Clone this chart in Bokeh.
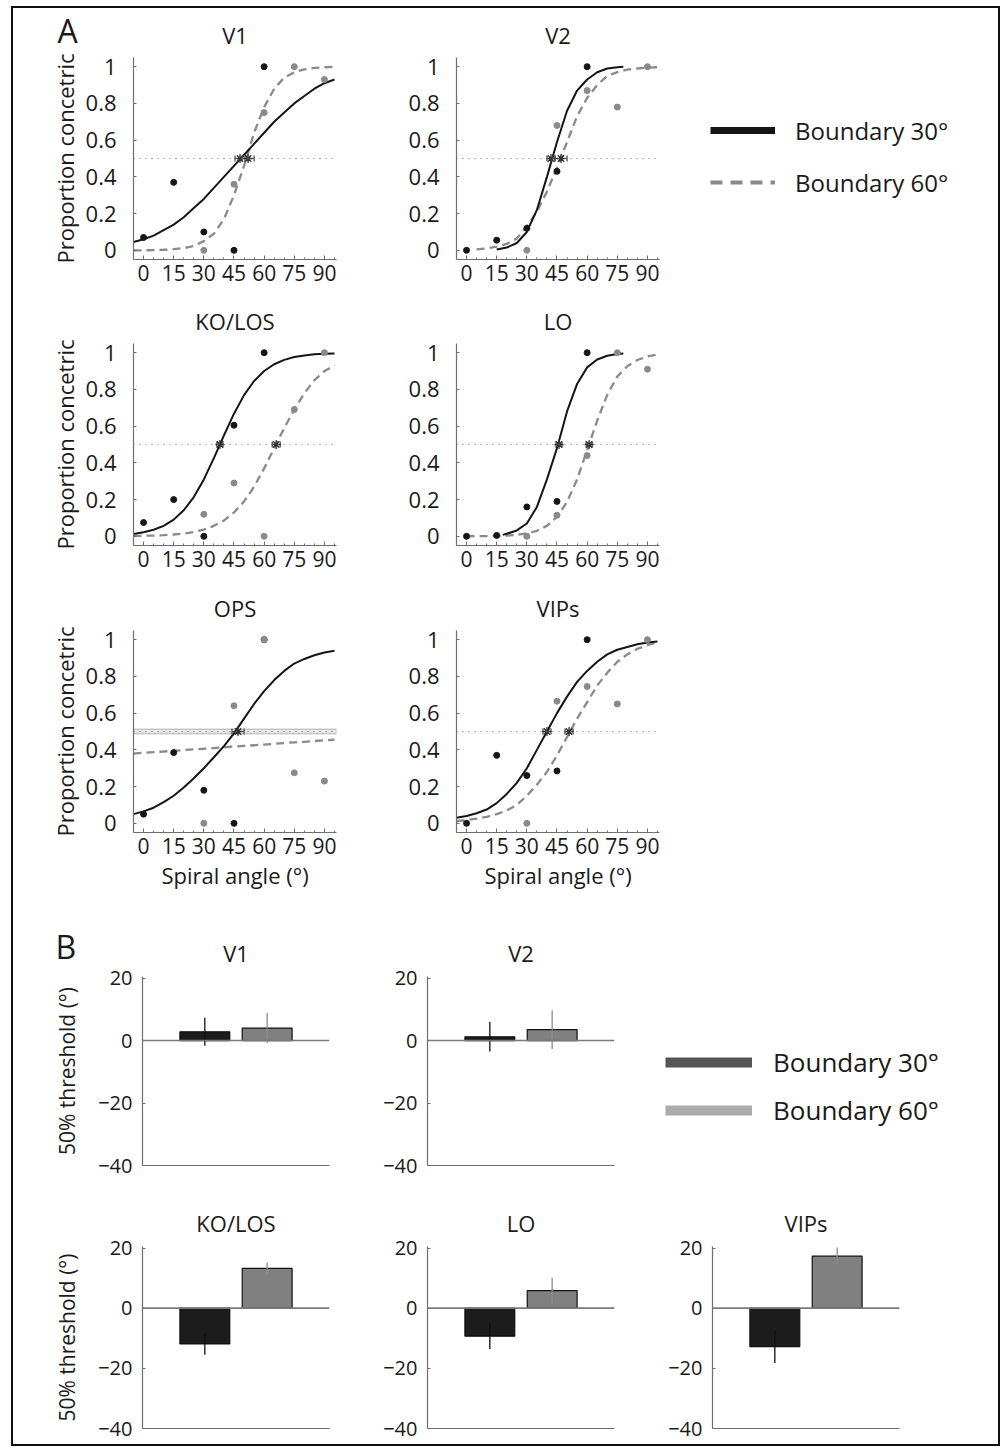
from bokeh.plotting import figure
from bokeh.layouts import row, column
from bokeh.models import (Span, FixedTicker, PrintfTickFormatter, Legend, LegendItem,
                          Label, BoxAnnotation, Range1d)
from bokeh.embed import file_html
from bokeh.resources import INLINE

# ======================= DATA : panel A (psychometric functions) =======================
ANGLES_30 = [0, 15, 30, 45, 60]          # stimuli, boundary 30°
ANGLES_60 = [30, 45, 60, 75, 90]         # stimuli, boundary 60°
X_TICKS = [0, 15, 30, 45, 60, 75, 90]
X_MINOR_TICKS = [-5, 0, 5, 10, 15, 20, 25, 30, 35, 40, 45, 50, 55, 60, 65, 70, 75, 80, 85, 90, 95]
Y_TICKS = [0, 0.2, 0.4, 0.6, 0.8, 1]
CRITERION = 0.5

FIT_X = [-5, 0, 5, 10, 15, 20, 25, 30, 35, 40, 45, 50, 55, 60, 65, 70, 75, 80, 85, 90, 95]

# V1
V1_PTS_30 = [0.07, 0.37, 0.10, 0.0, 1.0]
V1_PTS_60 = [0.0, 0.36, 0.75, 1.0, 0.93]
V1_FIT_30 = [0.045, 0.06, 0.08, 0.11, 0.14, 0.18, 0.23, 0.28, 0.34, 0.40, 0.46, 0.52, 0.58,
             0.64, 0.70, 0.75, 0.80, 0.84, 0.88, 0.91, 0.93]
V1_FIT_60 = [0.0, 0.0, 0.001, 0.003, 0.006, 0.012, 0.024, 0.05, 0.09, 0.17, 0.30, 0.46, 0.64,
             0.78, 0.88, 0.94, 0.97, 0.985, 0.993, 0.997, 0.999]

# V2
V2_PTS_30 = [0.0, 0.055, 0.12, 0.43, 1.0]
V2_PTS_60 = [0.0, 0.68, 0.87, 0.78, 1.0]
V2_FIT_30_X = [15, 20, 25, 30, 35, 40, 45, 50, 55, 60, 65, 70, 75, 78]
V2_FIT_30 = [0.005, 0.015, 0.04, 0.10, 0.22, 0.40, 0.59, 0.76, 0.87, 0.93, 0.97, 0.99, 0.997, 0.999]
V2_FIT_60_X = [5, 10, 15, 20, 25, 30, 35, 40, 45, 50, 55, 60, 65, 70, 75, 80, 85, 90, 95]
V2_FIT_60 = [0.005, 0.01, 0.02, 0.035, 0.065, 0.13, 0.21, 0.32, 0.45, 0.59, 0.73, 0.83, 0.90,
             0.95, 0.97, 0.984, 0.99, 0.995, 0.997]

# KO/LOS
KO_PTS_30 = [0.075, 0.20, 0.0, 0.605, 1.0]
KO_PTS_60 = [0.12, 0.29, 0.0, 0.69, 1.0]
KO_FIT_30 = [0.013, 0.022, 0.036, 0.057, 0.091, 0.142, 0.214, 0.31, 0.426, 0.55, 0.668, 0.769,
             0.846, 0.90, 0.937, 0.961, 0.976, 0.985, 0.991, 0.994, 0.996]
KO_FIT_60 = [0.002, 0.003, 0.004, 0.006, 0.01, 0.015, 0.023, 0.037, 0.057, 0.086, 0.13, 0.19,
             0.27, 0.37, 0.48, 0.59, 0.69, 0.78, 0.85, 0.90, 0.93]

# LO
LO_PTS_30 = [0.0, 0.005, 0.16, 0.19, 1.0]
LO_PTS_60 = [0.0, 0.115, 0.44, 1.0, 0.91]
LO_FIT_30_X = [18, 20, 25, 30, 35, 40, 45, 50, 55, 60, 65, 70, 75, 78]
LO_FIT_30 = [0.008, 0.014, 0.032, 0.07, 0.16, 0.31, 0.48, 0.68, 0.83, 0.92, 0.963, 0.983, 0.993, 0.996]
LO_FIT_60_X = [0, 5, 10, 15, 20, 25, 30, 35, 40, 45, 50, 55, 60, 65, 70, 75, 80, 85, 90, 95]
LO_FIT_60 = [0.0003, 0.0006, 0.001, 0.002, 0.004, 0.008, 0.016, 0.03, 0.057, 0.106, 0.187, 0.31,
             0.47, 0.63, 0.77, 0.87, 0.926, 0.96, 0.98, 0.99]

# OPS
OPS_PTS_30 = [0.05, 0.385, 0.18, 0.0, 1.0]
OPS_PTS_60 = [0.0, 0.64, 1.0, 0.275, 0.23]
OPS_FIT_30 = [0.05, 0.065, 0.085, 0.115, 0.15, 0.195, 0.245, 0.30, 0.36, 0.42, 0.49, 0.57, 0.65,
              0.72, 0.78, 0.83, 0.87, 0.895, 0.915, 0.93, 0.94]
OPS_FIT_60 = [0.380, 0.384, 0.388, 0.391, 0.395, 0.399, 0.403, 0.406, 0.410, 0.414, 0.418, 0.422,
              0.425, 0.429, 0.433, 0.437, 0.441, 0.444, 0.448, 0.452, 0.455]
OPS_THR_60_BAND = [0.487, 0.513]

# VIPs
VIP_PTS_30 = [0.0, 0.37, 0.26, 0.285, 1.0]
VIP_PTS_60 = [0.0, 0.665, 0.745, 0.65, 1.0]
VIP_FIT_30 = [0.03, 0.04, 0.055, 0.075, 0.11, 0.16, 0.22, 0.30, 0.40, 0.50, 0.60, 0.69, 0.77,
              0.83, 0.88, 0.92, 0.945, 0.96, 0.975, 0.985, 0.99]
VIP_FIT_60 = [0.012, 0.018, 0.025, 0.035, 0.05, 0.07, 0.10, 0.15, 0.21, 0.28, 0.37, 0.47, 0.57,
              0.66, 0.75, 0.82, 0.88, 0.92, 0.95, 0.97, 0.985]

# 50% thresholds (deg) and their CI half-widths, order: V1, V2, KO/LOS, LO, OPS, VIPs
THR_30 = [48, 42, 38, 46, 47, 40]
THR_30_CI = [2.5, 2, 1.5, 1.5, 3, 2]
THR_60 = [52, 47, 66, 61, None, 51]
THR_60_CI = [3, 3, 2, 1.5, None, 2]

# ======================= DATA : panel B (threshold shifts) =======================
BAR_X = [1, 2]                         # condition index: boundary 30°, boundary 60°
B_Y_TICKS = [-40, -20, 0, 20]
B_V1 = [2.8, 4.0]
B_V1_ERR = [4.5, 4.8]
B_V2 = [1.2, 3.5]
B_V2_ERR = [4.7, 6.2]
B_KO = [-11.9, 13.2]
B_KO_ERR = [3.6, 2.0]
B_LO = [-9.3, 5.8]
B_LO_ERR = [4.3, 4.3]
B_VIP = [-12.8, 17.3]
B_VIP_ERR = [5.4, 2.9]

LEGEND_LABELS = ["Boundary 30°", "Boundary 60°"]
NO_DATA = [float("nan")]

# ======================= STYLE =======================
FONT = "Open Sans"
TXT = "#1a1a1a"
AX = "#6e6e6e"
BLACK = "#151515"
GRAY = "#8a8a8a"


def base_fig(fw, fh, left, right, top, bottom, xr, yr, title, t_standoff):
    p = figure(frame_width=fw, frame_height=fh, x_range=xr, y_range=yr, title=title,
               output_backend="svg", toolbar_location=None,
               min_border_left=left, min_border_right=right,
               min_border_top=top, min_border_bottom=bottom)
    p.grid.visible = False
    p.outline_line_color = None
    p.background_fill_color = "white"
    p.border_fill_color = "white"
    p.title.text_font = FONT
    p.title.text_font_size = "22px"
    p.title.text_font_style = "normal"
    p.title.text_color = TXT
    p.title.align = "center"
    p.title.standoff = t_standoff
    for ax in (p.xaxis[0], p.yaxis[0]):
        ax.axis_line_color = AX
        ax.axis_line_width = 1.2
        ax.major_tick_line_color = AX
        ax.minor_tick_line_color = AX
        ax.major_tick_out = 0
        ax.minor_tick_out = 0
        ax.major_label_text_font = FONT
        ax.major_label_text_color = TXT
        ax.axis_label_text_font = FONT
        ax.axis_label_text_color = TXT
        ax.axis_label_text_font_style = "normal"
    return p


def panel_letter(p, letter, cx, cy):
    # placed in the (empty) right side panel so it is not clipped to the frame;
    # canvas units put it at the top-left corner of the figure
    p.add_layout(Label(x=cx, y=cy, x_units="canvas", y_units="canvas", text=letter,
                       text_baseline="middle", text_align="left", text_font=FONT,
                       text_font_size="32px", text_color=TXT), "right")


def psy_panel(idx, title, left, right, top, bottom, t_standoff,
              f30x, f30y, f60x, f60y, pts30, pts60,
              ylabel=None, xlabel=None, band=None):
    p = base_fig(203, 202, left, right, top, bottom, Range1d(-5, 96), Range1d(-0.05, 1.05),
                 title, t_standoff)
    xa, ya = p.xaxis[0], p.yaxis[0]
    xa.ticker = FixedTicker(ticks=X_TICKS, minor_ticks=X_MINOR_TICKS)
    xa.major_label_text_font_size = "21px"
    xa.major_label_standoff = 5
    xa.major_tick_in = 4
    xa.minor_tick_in = 2
    ya.ticker = FixedTicker(ticks=Y_TICKS)
    ya.formatter = PrintfTickFormatter(format="%g")
    ya.major_label_text_font_size = "22px"
    ya.major_label_standoff = 17
    ya.major_tick_in = 3
    ya.minor_tick_line_color = None
    if ylabel:
        ya.axis_label = ylabel
        ya.axis_label_text_font_size = "22px"
        ya.axis_label_standoff = 3
    if xlabel:
        xa.axis_label = xlabel
        xa.axis_label_text_font_size = "22px"
        xa.axis_label_standoff = 3

    p.add_layout(Span(location=CRITERION, dimension="width", line_color="#777",
                      line_dash="1 5", line_width=1.2))
    if band is not None:
        p.add_layout(BoxAnnotation(bottom=band[0], top=band[1], fill_color="#e6e6e6",
                                   fill_alpha=1.0, line_color="#555", line_width=1.3,
                                   level="underlay"))
    p.line(f60x, f60y, line_color=GRAY, line_width=2.3, line_dash="8 5")
    p.line(f30x, f30y, line_color=BLACK, line_width=2)
    p.scatter(ANGLES_30, pts30, size=6, fill_color=BLACK, line_color=BLACK)
    p.scatter(ANGLES_60, pts60, size=6, fill_color=GRAY, line_color=GRAY)

    for thr, ci in ((THR_30[idx], THR_30_CI[idx]), (THR_60[idx], THR_60_CI[idx])):
        if thr is None:
            continue
        p.segment(x0=[thr - ci], y0=[CRITERION], x1=[thr + ci], y1=[CRITERION],
                  line_color="#444", line_width=1.2)
        p.scatter([thr - ci, thr + ci], [CRITERION, CRITERION], marker="dash", angle=1.5708,
                  size=6, line_color="#444", line_width=1.2)
        p.scatter([thr], [CRITERION], marker="asterisk", size=9, line_color="#333", line_width=1.3)
    return p


def bar_panel(title, fh, left, right, top, bottom, t_standoff, vals, errs, ylabel=None):
    p = base_fig(187, fh, left, right, top, bottom, Range1d(0, 3), Range1d(-40, 20.5),
                 title, t_standoff)
    xa, ya = p.xaxis[0], p.yaxis[0]
    xa.ticker = FixedTicker(ticks=[])
    xa.major_label_text_font_size = "0px"
    xa.major_label_standoff = 0
    xa.major_tick_in = 0
    xa.minor_tick_line_color = None
    ya.ticker = FixedTicker(ticks=B_Y_TICKS)
    ya.major_label_overrides = {-40: "\u221240", -20: "\u221220", 0: "0", 20: "20",
                                "-40": "\u221240", "-20": "\u221220"}
    ya.major_label_text_font_size = "20px"
    ya.major_label_standoff = 10
    ya.major_tick_in = 3
    ya.minor_tick_line_color = None
    if ylabel:
        ya.axis_label = ylabel
        ya.axis_label_text_font_size = "21px"
        ya.axis_label_standoff = 14

    p.vbar(x=BAR_X, top=vals, bottom=0, width=0.8,
           fill_color=["#1c1c1c", "#808080"], line_color="#111", line_width=1.2)
    lo = [v - e for v, e in zip(vals, errs)]
    hi = [v + e for v, e in zip(vals, errs)]
    p.segment(x0=BAR_X, y0=lo, x1=BAR_X, y1=hi, line_color=["#111", "#8c8c8c"], line_width=1.3)
    p.add_layout(Span(location=0, dimension="width", line_color="#7a7a7a", line_width=1.6))
    return p


def legend_fig(fw, fh, left, top, bottom, loc, renderers_spec, glyph_w, item_h, standoff,
               font_size, spacing):
    p = figure(frame_width=fw, frame_height=fh, x_axis_type=None, y_axis_type=None,
               x_range=Range1d(0, 1), y_range=Range1d(0, 1),
               output_backend="svg", toolbar_location=None,
               min_border_left=left, min_border_top=top, min_border_right=0,
               min_border_bottom=bottom)
    p.grid.visible = False
    p.outline_line_color = None
    items = []
    for label, kw in zip(LEGEND_LABELS, renderers_spec):
        r = p.line(x=NO_DATA, y=NO_DATA, **kw)
        items.append(LegendItem(label=label, renderers=[r]))
    leg = Legend(items=items, location=loc, margin=0, padding=0, spacing=spacing,
                 glyph_width=glyph_w, glyph_height=item_h, label_height=item_h,
                 label_standoff=standoff, label_text_font=FONT,
                 label_text_font_size=font_size, label_text_color=TXT,
                 border_line_color=None, background_fill_alpha=0)
    p.add_layout(leg)
    return p


# ----------------- panel A -----------------
a_v1 = psy_panel(0, "V1", 120, 64, 49, 36, 16, FIT_X, V1_FIT_30, FIT_X, V1_FIT_60,
                 V1_PTS_30, V1_PTS_60, ylabel="Proportion concetric")
panel_letter(a_v1, "A", 44, 22)
a_v2 = psy_panel(1, "V2", 56, 41, 49, 36, 16, V2_FIT_30_X, V2_FIT_30, V2_FIT_60_X, V2_FIT_60,
                 V2_PTS_30, V2_PTS_60)
leg_a = legend_fig(288, 202, 10, 49, 36, (0, 60),
                   [dict(line_color=BLACK, line_width=7),
                    dict(line_color=GRAY, line_width=4, line_dash="12 8")],
                   65, 34, 20, "24px", 18)

a_ko = psy_panel(2, "KO/LOS", 120, 64, 48, 36, 15, FIT_X, KO_FIT_30, FIT_X, KO_FIT_60,
                 KO_PTS_30, KO_PTS_60, ylabel="Proportion concetric")
a_lo = psy_panel(3, "LO", 56, 41, 48, 36, 15, LO_FIT_30_X, LO_FIT_30, LO_FIT_60_X, LO_FIT_60,
                 LO_PTS_30, LO_PTS_60)

a_ops = psy_panel(4, "OPS", 120, 64, 49, 68, 16, FIT_X, OPS_FIT_30, FIT_X, OPS_FIT_60,
                  OPS_PTS_30, OPS_PTS_60, ylabel="Proportion concetric",
                  xlabel="Spiral angle (\u00b0)", band=OPS_THR_60_BAND)
a_vip = psy_panel(5, "VIPs", 56, 41, 49, 68, 16, FIT_X, VIP_FIT_30, FIT_X, VIP_FIT_60,
                  VIP_PTS_30, VIP_PTS_60, xlabel="Spiral angle (\u00b0)")

# ----------------- panel B -----------------
b_v1 = bar_panel("V1", 189, 129, 51, 76, 22, 17, B_V1, B_V1_ERR, ylabel="50% threshold (\u00b0)")
panel_letter(b_v1, "B", 42, 46)
b_v2 = bar_panel("V2", 189, 47, 46, 76, 22, 17, B_V2, B_V2_ERR)
leg_b = legend_fig(333, 189, 5, 76, 22, (0, 37),
                   [dict(line_color="#555555", line_width=10),
                    dict(line_color="#ababab", line_width=10)],
                   87, 36, 21, "26px", 12)

b_ko = bar_panel("KO/LOS", 182, 129, 51, 59, 16, 18, B_KO, B_KO_ERR, ylabel="50% threshold (\u00b0)")
b_lo = bar_panel("LO", 182, 47, 51, 59, 16, 18, B_LO, B_LO_ERR)
b_vip = bar_panel("VIPs", 182, 47, 99, 59, 16, 18, B_VIP, B_VIP_ERR)

layout = column(
    row(a_v1, a_v2, leg_a),
    row(a_ko, a_lo),
    row(a_ops, a_vip),
    row(b_v1, b_v2, leg_b),
    row(b_ko, b_lo, b_vip),
    styles={"border": "2px solid #111", "background-color": "white",
            "margin-left": "11px", "margin-top": "6px"},
)

open("out.html", "w").write(file_html(layout, INLINE))
